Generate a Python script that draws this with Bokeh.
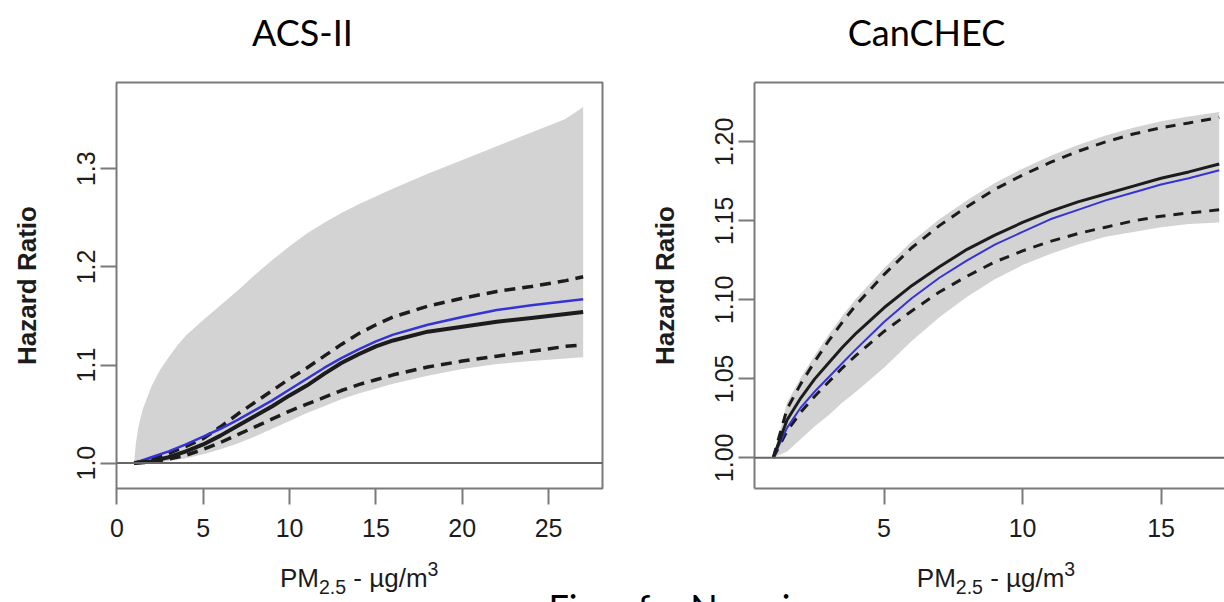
from bokeh.plotting import figure
from bokeh.layouts import column, row
from bokeh.models import Span, FixedTicker, NumeralTickFormatter, Label, LinearAxis
from bokeh.embed import file_html
from bokeh.resources import INLINE

# ---------------- data: ACS-II (left panel) ----------------
acs_x = [1, 2, 3, 4, 5, 6, 7, 8, 9, 10, 11, 12, 13, 14, 15, 16, 18, 20, 22, 24, 26, 27]
acs_black = [1.0, 1.002, 1.006, 1.012, 1.019, 1.028, 1.038, 1.048, 1.058, 1.069, 1.079,
             1.091, 1.102, 1.111, 1.119, 1.125, 1.134, 1.139, 1.144, 1.148, 1.152, 1.154]
acs_blue = [1.0, 1.006, 1.012, 1.019, 1.027, 1.035, 1.044, 1.054, 1.064, 1.075, 1.086,
            1.097, 1.107, 1.116, 1.124, 1.131, 1.141, 1.149, 1.156, 1.161, 1.165, 1.167]
acs_dash_hi = [1.0, 1.004, 1.01, 1.017, 1.025, 1.037, 1.05, 1.062, 1.074, 1.086, 1.097,
               1.109, 1.121, 1.132, 1.141, 1.149, 1.16, 1.168, 1.175, 1.18, 1.186, 1.19]
acs_dash_lo = [1.0, 1.001, 1.004, 1.008, 1.014, 1.021, 1.029, 1.037, 1.045, 1.053, 1.06,
               1.067, 1.074, 1.08, 1.085, 1.09, 1.098, 1.104, 1.109, 1.114, 1.119, 1.1205]
acs_band_up_x = [1, 1.1, 1.25, 1.5, 2, 2.5, 3, 3.5, 4, 5, 6, 7, 8, 9, 10, 11, 12, 13, 14,
                 16, 18, 20, 22, 24, 26, 27]
acs_band_up_y = [1.0, 1.02, 1.037, 1.055, 1.078, 1.095, 1.108, 1.12, 1.13, 1.146, 1.161,
                 1.176, 1.192, 1.207, 1.221, 1.234, 1.245, 1.255, 1.264, 1.28, 1.295, 1.309,
                 1.323, 1.337, 1.351, 1.363]
acs_band_lo_x = [1, 2, 3, 4, 5, 6, 7, 8, 9, 10, 11, 12, 13, 14, 16, 18, 20, 22, 24, 27]
acs_band_lo_y = [1.0, 1.0, 1.002, 1.005, 1.009, 1.014, 1.02, 1.027, 1.035, 1.043, 1.051,
                 1.058, 1.065, 1.071, 1.081, 1.089, 1.096, 1.101, 1.104, 1.108]
acs_xticks = [0, 5, 10, 15, 20, 25]
acs_yticks = [1.0, 1.1, 1.2, 1.3]

# ---------------- data: CanCHEC (right panel) ----------------
can_x = [1, 1.5, 2, 2.5, 3, 3.5, 4, 5, 6, 7, 8, 9, 10, 11, 12, 13, 14, 15, 16, 17.1]
can_black = [1.0, 1.024, 1.038, 1.05, 1.06, 1.07, 1.079, 1.095, 1.109, 1.121, 1.132,
             1.141, 1.149, 1.156, 1.162, 1.167, 1.172, 1.177, 1.181, 1.186]
can_blue = [1.0, 1.019, 1.032, 1.042, 1.051, 1.06, 1.069, 1.086, 1.101, 1.114, 1.125,
            1.135, 1.143, 1.151, 1.157, 1.163, 1.168, 1.173, 1.177, 1.182]
can_dash_hi = [1.0, 1.031, 1.047, 1.061, 1.074, 1.086, 1.097, 1.116, 1.133, 1.147, 1.159,
               1.17, 1.179, 1.187, 1.194, 1.2, 1.205, 1.209, 1.212, 1.2155]
can_dash_lo = [1.0, 1.017, 1.029, 1.039, 1.048, 1.057, 1.065, 1.08, 1.093, 1.105, 1.115,
               1.124, 1.131, 1.137, 1.142, 1.146, 1.15, 1.153, 1.155, 1.157]
can_band_up = [1.0, 1.035, 1.051, 1.065, 1.078, 1.09, 1.101, 1.12, 1.137, 1.151, 1.163,
               1.174, 1.183, 1.191, 1.198, 1.204, 1.209, 1.213, 1.216, 1.219]
can_band_lo = [1.0, 1.004, 1.012, 1.02, 1.027, 1.035, 1.042, 1.057, 1.074, 1.089, 1.102,
               1.113, 1.122, 1.129, 1.135, 1.14, 1.143, 1.146, 1.148, 1.149]
can_xticks = [5, 10, 15]
can_yticks = [1.00, 1.05, 1.10, 1.15, 1.20]

titles = ["ACS-II", "CanCHEC"]
y_title = "Hazard Ratio"
source_note = "Figur fra Nasari"

# ---------------- styles ----------------
BAND = "#d3d3d3"
BLUE = "#3434d6"
INK = "#1c1c1c"
BOX = "#7a7a7a"
TICK_FONT = "Liberation Sans"
TITLE_FONT = "Lato"


def panel(width, height, xr, yr, borders, xticks, yticks, yfmt, boxed):
    bl, br, bt, bb = borders
    p = figure(width=width, height=height, x_range=xr, y_range=yr,
               toolbar_location=None, output_backend="svg",
               min_border_left=bl, min_border_right=br,
               min_border_top=bt, min_border_bottom=bb)
    p.grid.visible = False
    xa = p.below[0]
    ya = p.left[0]
    xa.ticker = FixedTicker(ticks=xticks)
    xa.formatter = NumeralTickFormatter(format="0")
    ya.ticker = FixedTicker(ticks=yticks)
    ya.formatter = NumeralTickFormatter(format=yfmt)
    ya.major_label_orientation = "vertical"
    for ax in (xa, ya):
        ax.major_tick_out = 16
        ax.major_tick_in = 0
        ax.minor_tick_out = 0
        ax.minor_tick_in = 0
        ax.major_tick_line_color = BOX
        ax.major_tick_line_width = 2
        ax.major_label_text_font = TICK_FONT
        ax.major_label_text_font_size = "25px"
        ax.major_label_text_color = INK
    xa.major_label_standoff = 14
    ya.major_label_standoff = 5
    ya.axis_label = y_title
    ya.axis_label_text_font = TICK_FONT
    ya.axis_label_text_font_style = "bold"
    ya.axis_label_text_font_size = "26px"
    ya.axis_label_text_color = INK
    ya.axis_label_standoff = 33
    if boxed:
        p.outline_line_color = BOX
        p.outline_line_width = 2
        xa.axis_line_color = None
        ya.axis_line_color = None
    else:
        p.outline_line_color = None
        xa.axis_line_color = BOX
        xa.axis_line_width = 2
        ya.axis_line_color = BOX
        ya.axis_line_width = 2
        top = LinearAxis(ticker=FixedTicker(ticks=[]), axis_line_color=BOX, axis_line_width=2,
                         major_tick_out=0, major_tick_in=0, minor_tick_out=0, minor_tick_in=0,
                         major_label_text_font_size="0px", major_label_standoff=0)
        p.add_layout(top, "above")
    return p


def draw(p, x, bx_up, by_up, bx_lo, by_lo, black, blue, hi, lo, lw):
    p.patch(list(bx_up) + list(bx_lo)[::-1], list(by_up) + list(by_lo)[::-1],
            fill_color=BAND, line_color=None)
    p.add_layout(Span(location=1.0, dimension="width", line_color="#666666", line_width=2))
    p.line(x, hi, line_color=INK, line_width=lw[2], line_dash=lw[3])
    p.line(x, lo, line_color=INK, line_width=lw[2], line_dash=lw[3])
    p.line(x, blue, line_color=BLUE, line_width=lw[1])
    p.line(x, black, line_color=INK, line_width=lw[0])


# left panel: canvas x 0..628, y 64..552 ; frame 116..602 x 77..488
left = panel(628, 488, (-0.02, 28.12), (0.9741, 1.3880), (116, 26, 13, 64),
             acs_xticks, acs_yticks, "0.0", True)
draw(left, acs_x, acs_band_up_x, acs_band_up_y, acs_band_lo_x, acs_band_lo_y,
     acs_black, acs_blue, acs_dash_hi, acs_dash_lo, (4, 2.5, 3.5, "11 7"))

# right panel: canvas x 628..1224 ; frame 754..1224 x 82..489
right = panel(596, 488, (0.325, 17.29), (0.9806, 1.2376), (126, 0, 18, 63),
              can_xticks, can_yticks, "0.00", False)
draw(right, can_x, can_x, can_band_up, can_x, can_band_lo,
     can_black, can_blue, can_dash_hi, can_dash_lo, (3, 2, 3, "10 8"))


def strip(height):
    s = figure(width=1224, height=height, x_range=(0, 1224), y_range=(0, height),
               toolbar_location=None, output_backend="svg", min_border=0,
               x_axis_location=None, y_axis_location=None)
    s.grid.visible = False
    s.outline_line_color = None
    return s


# top strip (page y 0..64): slide titles, text centre at page y 32
top = strip(64)
for t, cx in zip(titles, [302, 926]):
    top.add_layout(Label(x=cx, y=33, text=t, text_font=TITLE_FONT, text_font_size="36px",
                         text_color="#000000", text_align="center", text_baseline="middle"))

# bottom strip (page y 552..602): x-axis titles and cut-off note
bottom = strip(50)
ADV = {'P': 0.667, 'M': 0.833, '2': 0.556, '.': 0.278, '5': 0.556, '-': 0.333,
       'µ': 0.576, 'g': 0.556, '/': 0.278, 'm': 0.833, '3': 0.556}
SPACE = 0.278


def pm_label(fig, cx, y_mid):
    big, small = 26, 19.5
    # (text, size, vertical shift of centre, gap before)
    parts = [("PM", big, 0, 0), ("2.5", small, -9.2, 0), ("-", big, 0, SPACE * big),
             ("µg/m", big, 0, SPACE * big), ("3", small, 8.3, 0)]
    widths = [sum(ADV[c] for c in s) * fs for s, fs, _, _ in parts]
    total = sum(widths) + sum(g for *_, g in parts)
    x0 = cx - total / 2
    for (s, fs, dy, gap), w in zip(parts, widths):
        x0 += gap
        fig.add_layout(Label(x=x0, y=y_mid + dy, text=s, text_font=TICK_FONT,
                             text_font_size=f"{fs}px", text_color=INK,
                             text_align="left", text_baseline="middle"))
        x0 += w


pm_label(bottom, 358.7, 25)
pm_label(bottom, 995.5, 25)
bottom.add_layout(Label(x=548, y=-4, text=source_note, text_font=TITLE_FONT,
                        text_font_size="36px", text_color="#000000",
                        text_align="left", text_baseline="middle"))

layout = column(top, row(left, right), bottom)
open("out.html", "w").write(file_html(layout, INLINE))
